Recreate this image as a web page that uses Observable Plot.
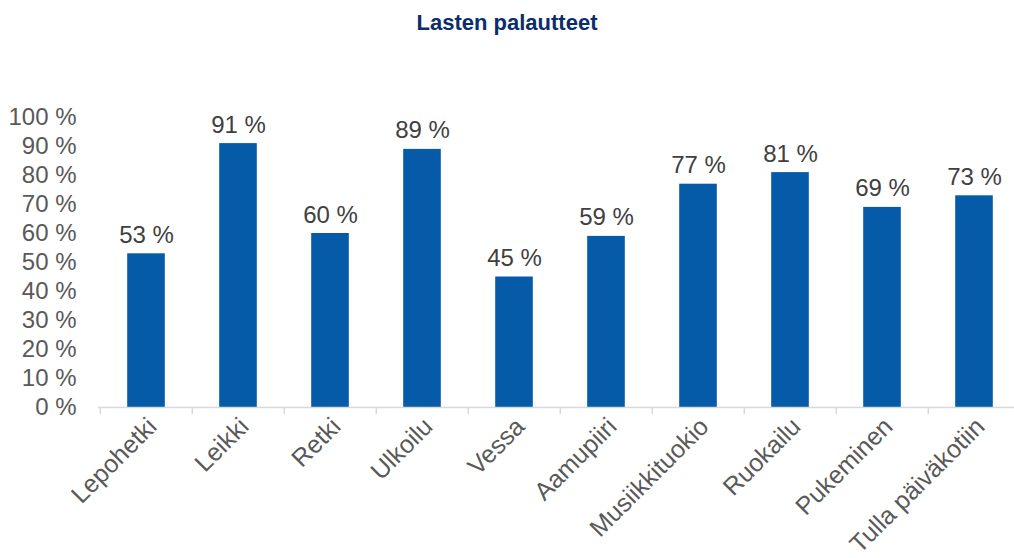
<!DOCTYPE html>
<html>
<head>
<meta charset="utf-8">
<script src="https://cdn.jsdelivr.net/npm/d3@7"></script>
<script src="https://cdn.jsdelivr.net/npm/@observablehq/plot@0.6"></script>
<style>
  html, body { margin: 0; padding: 0; background: #fff; }
  #title { height: 45px; line-height: 45px; text-align: center; font-family: "Liberation Sans", Arial, sans-serif; font-weight: bold; font-size: 22px; color: #0b2d6b; }
  #chart svg { display: block; overflow: visible; }
</style>
</head>
<body>
<div id="title">Lasten palautteet</div>
<div id="chart"></div>
<script>
const categories = ["Lepohetki", "Leikki", "Retki", "Ulkoilu", "Vessa", "Aamupiiri", "Musiikkituokio", "Ruokailu", "Pukeminen", "Tulla päiväkotiin"];
const values = [53, 91, 60, 89, 45, 59, 77, 81, 69, 73];
const yTicks = [0, 10, 20, 30, 40, 50, 60, 70, 80, 90, 100];

const data = categories.map((c, i) => ({category: c, value: values[i]}));

const width = 1014, height = 513;
const marginLeft = 98, marginRight = -8;
const band = (width - marginRight - marginLeft) / categories.length;
const barW = 38;
const inset = (band - barW) / 2;
const font = "Liberation Sans, Arial, sans-serif";

const chart = Plot.plot({
  width, height,
  marginLeft, marginRight,
  marginTop: 72, marginBottom: 151,
  style: {fontFamily: font, fontSize: "23px", color: "#595959", background: "#fff"},
  x: {domain: categories, padding: 0, label: null},
  y: {domain: [0, 100], label: null},
  marks: [
    Plot.barY(data, {x: "category", y: "value", fill: "#065ba9", insetLeft: inset, insetRight: inset}),
    Plot.ruleY([0], {stroke: "#d9d9d9", strokeWidth: 1.5}),
    Plot.axisX({tickSize: 7, text: null, dx: -band / 2, stroke: "#d9d9d9", strokeWidth: 1.5}),
    Plot.axisX({tickSize: 0, tickRotate: -45, tickPadding: 15, dx: 6, fill: "#595959", fontSize: 25, label: null}),
    Plot.axisY({ticks: yTicks, tickSize: 0, tickPadding: 22, tickFormat: d => d + " %", fill: "#595959", fontSize: 24, label: null}),
    Plot.text(data, {x: "category", y: "value", text: d => d.value + " %", lineAnchor: "bottom", dy: -11, fill: "#404040", fontSize: 24})
  ]
});
document.getElementById("chart").appendChild(chart);
</script>
</body>
</html>
